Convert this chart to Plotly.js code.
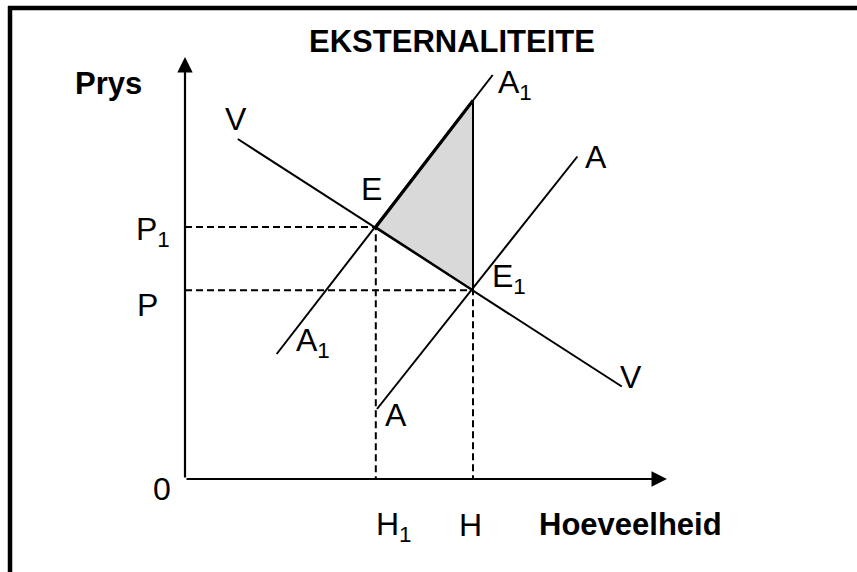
<!DOCTYPE html>
<html>
<head>
<meta charset="utf-8">
<script src="https://cdn.plot.ly/plotly-3.0.1.min.js"></script>
<style>
html,body{margin:0;padding:0;background:#fff;}
#chart{width:857px;height:572px;}
</style>
</head>
<body>
<div id="chart"></div>
<script>
// ---- data (quantity, price units) ----
const demandQ = [2.2, 18.2];          // V  (vraag)
const demandP = [13.6, 3.7];
const supplyQ = [8.0, 16.35];         // A  (private aanbod)
const supplyP = [2.8, 12.9];
const socialQ = [3.82, 12.82];        // A1 (sosiale aanbod)
const socialP = [5.0, 16.16];
const eqQ = [7.95, 12.0];             // E, E1
const eqP = [10.08, 7.55];
const lossQ = [7.95, 12.0, 12.0];     // welvaartsverlies driehoek
const lossP = [10.08, 15.14, 7.55];
const axisTipQ = 20.08;
const axisTipP = 16.88;
const tickLabels = ['0', 'P', 'P<sub>1</sub>', 'H<sub>1</sub>', 'H'];

// ---- pixel mapping helpers for text placement ----
const W = 857, H = 572;
const px = (x) => x / W;
const py = (y) => 1 - y / H;

const FONT = 'Liberation Sans, Arial, Helvetica, sans-serif';
const blk = '#000';
const REG = 32, BOLD = 31;

const traces = [
  // shaded welfare-loss triangle
  {x: lossQ.concat([lossQ[0]]), y: lossP.concat([lossP[0]]), mode: 'lines', fill: 'toself',
   fillcolor: '#d9d9d9', line: {color: blk, width: 2}, hoverinfo: 'skip'},
  // dashed guides
  {x: [0, eqQ[0], eqQ[0]], y: [eqP[0], eqP[0], 0], mode: 'lines',
   line: {color: blk, width: 2, dash: '7px,4px'}, hoverinfo: 'skip'},
  {x: [0, eqQ[1], eqQ[1]], y: [eqP[1], eqP[1], 0], mode: 'lines',
   line: {color: blk, width: 2, dash: '7px,4px'}, hoverinfo: 'skip'},
  // curves
  {x: demandQ, y: demandP, mode: 'lines', line: {color: blk, width: 2}, hoverinfo: 'skip'},
  {x: supplyQ, y: supplyP, mode: 'lines', line: {color: blk, width: 2}, hoverinfo: 'skip'},
  {x: socialQ, y: socialP, mode: 'lines', line: {color: blk, width: 2}, hoverinfo: 'skip'},
  // thicker segment E -> top of triangle
  {x: [lossQ[0], lossQ[1]], y: [lossP[0], lossP[1]], mode: 'lines', line: {color: blk, width: 3.2}, hoverinfo: 'skip'}
];

function lbl(text, x, y, opts) {
  return Object.assign({
    text: text, xref: 'paper', yref: 'paper', x: px(x), y: py(y),
    xanchor: 'center', yanchor: 'middle', showarrow: false,
    font: {family: FONT, size: REG, color: blk}
  }, opts || {});
}

const annotations = [
  // axes with arrowheads
  {x: axisTipQ, y: 0, ax: 0, ay: 0, xref: 'x', yref: 'y', axref: 'x', ayref: 'y',
   text: '', showarrow: true, arrowhead: 2, arrowsize: 1.4, arrowwidth: 2.2, arrowcolor: blk, standoff: 0},
  {x: 0, y: axisTipP, ax: 0, ay: 0, xref: 'x', yref: 'y', axref: 'x', ayref: 'y',
   text: '', showarrow: true, arrowhead: 2, arrowsize: 1.4, arrowwidth: 2.2, arrowcolor: blk, standoff: 0},
  // labels
  lbl('<b>Prys</b>', 108, 83, {font: {family: FONT, size: BOLD, color: blk}}),
  lbl('<b>Hoeveelheid</b>', 630, 524, {font: {family: FONT, size: BOLD, color: blk}}),
  lbl('V', 236, 119),
  lbl('V', 631, 377),
  lbl('E', 371, 189),
  lbl('E<sub>1</sub>', 509, 279),
  lbl('A<sub>1</sub>', 515, 85),
  lbl('A<sub>1</sub>', 313, 342),
  lbl('A', 596, 157),
  lbl('A', 396, 415),
  lbl(tickLabels[2], 153, 231),
  lbl(tickLabels[1], 147, 305),
  lbl(tickLabels[0], 162, 489),
  lbl(tickLabels[3], 394, 526),
  lbl(tickLabels[4], 471, 525)
];

const layout = {
  width: W, height: H,
  margin: {l: 0, r: 0, t: 0, b: 0, pad: 0},
  paper_bgcolor: '#fff', plot_bgcolor: '#fff',
  showlegend: false,
  title: {text: '<b>EKSTERNALITEITE</b>', x: px(452), xanchor: 'center', y: py(41), yanchor: 'middle',
          font: {family: FONT, size: BOLD, color: blk}},
  xaxis: {range: [-185 / 24, (W - 185) / 24], visible: false, fixedrange: true},
  yaxis: {range: [(479 - H) / 25, 479 / 25], visible: false, fixedrange: true},
  shapes: [
    {type: 'line', xref: 'paper', yref: 'paper', x0: px(10), x1: px(10), y0: py(6), y1: py(H + 2),
     line: {color: blk, width: 4.5}},
    {type: 'line', xref: 'paper', yref: 'paper', x0: px(8), x1: px(W + 2), y0: py(8), y1: py(8),
     line: {color: blk, width: 4.5}}
  ],
  annotations: annotations
};

Plotly.newPlot('chart', traces, layout, {displayModeBar: false, staticPlot: true});
</script>
</body>
</html>
